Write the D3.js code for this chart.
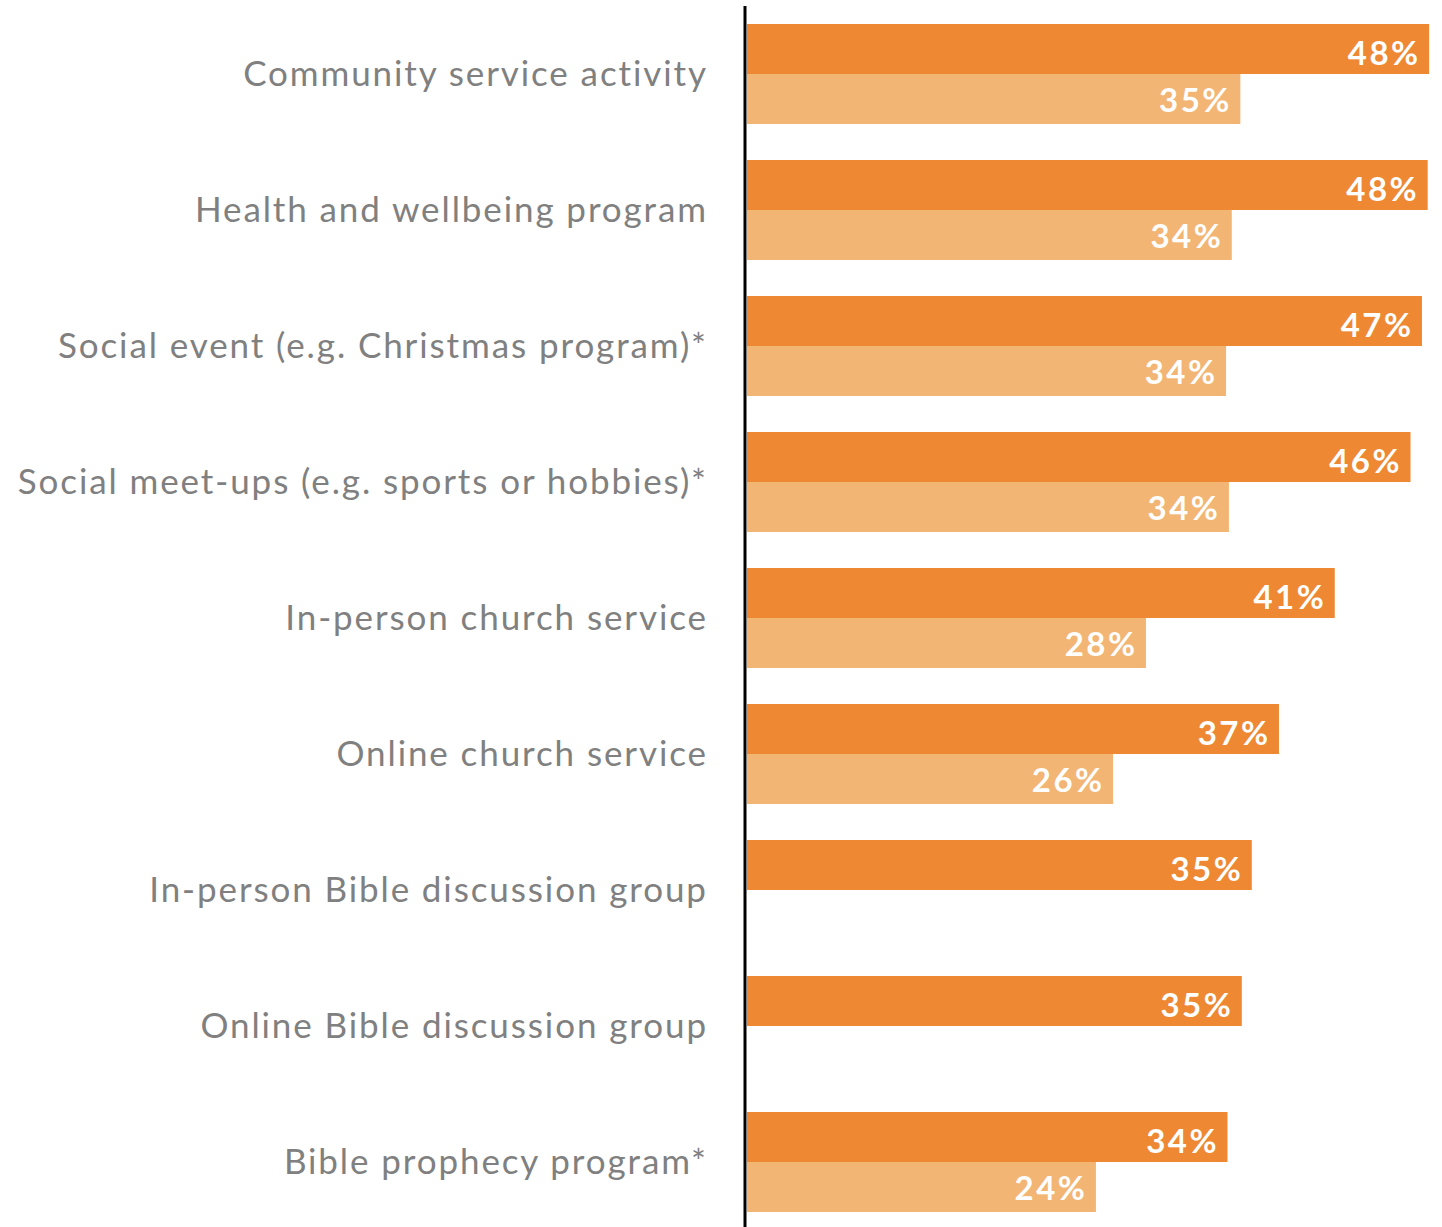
<!DOCTYPE html>
<html>
<head>
<meta charset="utf-8">
<script src="https://cdn.jsdelivr.net/npm/d3@7"></script>
<style>
  body { margin: 0; background: #fff; }
  svg { display: block; }
</style>
</head>
<body>
<script>
    //Data
        const categories = [
            "Community service activity",
            "Health and wellbeing program",
            "Social event (e.g. Christmas program)*",
            "Social meet-ups (e.g. sports or hobbies)*",
            "In-person church service",
            "Online church service",
            "In-person Bible discussion group",
            "Online Bible discussion group",
            "Bible prophecy program*"
        ];
        // bar lengths and the printed labels
        const darkValues  = [47.7, 47.6, 47.2, 46.4, 41.1, 37.2, 35.3, 34.6, 33.6];
        const darkLabels  = [48, 48, 47, 46, 41, 37, 35, 35, 34];
        const lightValues = [34.5, 33.9, 33.5, 33.7, 27.9, 25.6, null, null, 24.4];
        const lightLabels = [35, 34, 34, 34, 28, 26, null, null, 24];

    //Consts
        const width = 1442;
        const height = 1227;
        const axisX = 745;
        const x0 = 747;
        const catSpacing = 1.9;
        const valSpacing = 2.5;

        const rows = categories.map((c, i) => ({
            cat: c,
            series: [
                {key: "dark", v: darkValues[i], label: darkLabels[i]},
                {key: "light", v: lightValues[i], label: lightLabels[i]}
            ].filter(s => s.v != null)
        }));

    //Scales
        const yScale = d3.scaleBand()
                        .domain(categories)
                        .range([24, 1212])
                        .paddingInner(36 / 136);

        const ySub = d3.scaleBand()
                        .domain(["dark", "light"])
                        .range([0, yScale.bandwidth()]);

        const xScale = d3.scaleLinear()
                        .domain([0, 50])
                        .range([x0, x0 + 14.3 * 50]);

        const color = {dark: "#ee8833", light: "#f3b574"};
        const labelDy = {dark: -9, light: -12};

    //SVG
        const svg = d3.select("body")
                    .append("svg")
                    .attr("width", width)
                    .attr("height", height);

    //Bars
        const groups = svg.selectAll("g.row")
            .data(rows)
            .enter()
            .append("g")
            .attr("class", "row")
            .attr("transform", d => "translate(0," + yScale(d.cat) + ")");

        groups.selectAll("rect")
            .data(d => d.series)
            .enter()
            .append("rect")
            .attr("x", xScale(0))
            .attr("y", d => ySub(d.key))
            .attr("width", d => xScale(d.v) - xScale(0))
            .attr("height", ySub.bandwidth())
            .attr("fill", d => color[d.key]);

        groups.selectAll("text.val")
            .data(d => d.series)
            .enter()
            .append("text")
            .attr("class", "val")
            .attr("x", d => xScale(d.v) - 11 + valSpacing)
            .attr("y", d => ySub(d.key) + ySub.bandwidth() + labelDy[d.key])
            .attr("text-anchor", "end")
            .attr("fill", "#fff")
            .style("font-family", "Lato, sans-serif")
            .style("font-weight", "bold")
            .style("font-size", "33px")
            .style("letter-spacing", valSpacing + "px")
            .text(d => d.label + "%");

    //Axis - category labels
        const leftAxis = d3.axisLeft()
                           .scale(yScale)
                           .tickSize(0)
                           .tickPadding(39);

        const ax = svg.append("g")
            .attr("transform", "translate(" + axisX + ",0)")
            .call(leftAxis);

        ax.select(".domain").remove();
        ax.selectAll("text")
            .attr("x", -39 + catSpacing)
            .attr("dy", "0.34em")
            .attr("fill", "#808080")
            .style("font-family", "Lato, sans-serif")
            .style("font-size", "35px")
            .style("letter-spacing", catSpacing + "px");

        svg.append("line")
            .attr("x1", axisX).attr("x2", axisX)
            .attr("y1", 6).attr("y2", height)
            .attr("stroke", "#000")
            .attr("stroke-width", 3);
</script>
</body>
</html>
